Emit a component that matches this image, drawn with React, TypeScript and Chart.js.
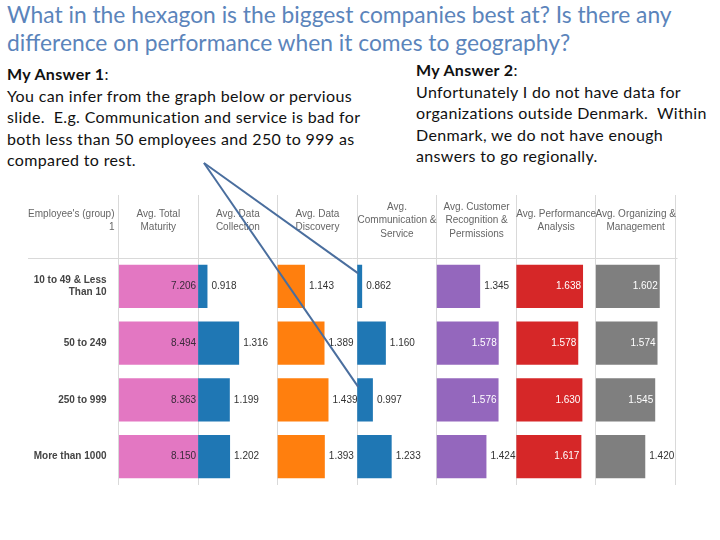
import React, { useEffect, useRef } from "react";
import { Chart, registerables } from "chart.js";

Chart.register(...registerables);

const rowLabels: (string | string[])[] = [
  ["10 to 49 & Less", "Than 10"],
  "50 to 249",
  "250 to 999",
  "More than 1000",
];

const measureHeaders: string[][] = [
  ["Avg. Total", "Maturity"],
  ["Avg. Data", "Collection"],
  ["Avg. Data", "Discovery"],
  ["Avg.", "Communication &", "Service"],
  ["Avg. Customer", "Recognition &", "Permissions"],
  ["Avg. Performance", "Analysis"],
  ["Avg. Organizing &", "Management"],
];

const groupHeader = ["Employee's (group)", "1"];

const totalMaturity = [7.206, 8.494, 8.363, 8.15];
const dataCollection = [0.918, 1.316, 1.199, 1.202];
const dataDiscovery = [1.143, 1.389, 1.439, 1.393];
const communication = [0.862, 1.16, 0.997, 1.233];
const customerRecognition = [1.345, 1.578, 1.576, 1.424];
const performanceAnalysis = [1.638, 1.578, 1.63, 1.617];
const organizing = [1.602, 1.574, 1.545, 1.42];

const seriesList = [
  totalMaturity,
  dataCollection,
  dataDiscovery,
  communication,
  customerRecognition,
  performanceAnalysis,
  organizing,
];

const seriesColors = ["#e377c2", "#1f77b4", "#ff7f0e", "#1f77b4", "#9467bd", "#d62728", "#7f7f7f"];

// per-column axis range (each column is its own small axis)
const AX_MIN = 0.8;
const AX_MAX = 1.8;

const FONT = "'Liberation Sans', Arial, sans-serif";

const tablePlugin = {
  id: "tablePlugin",
  afterDatasetsDraw(chart: any) {
    const ctx = chart.ctx as CanvasRenderingContext2D;
    const xs = chart.scales.x;
    const ys = chart.scales.y;
    const area = chart.chartArea;
    ctx.save();

    // value labels
    ctx.font = `10px ${FONT}`;
    ctx.textBaseline = "middle";
    chart.data.datasets.forEach((ds: any, i: number) => {
      const meta = chart.getDatasetMeta(i);
      meta.data.forEach((el: any, j: number) => {
        const v = seriesList[i][j];
        const txt = v.toFixed(3);
        const inside = i === 0 || v >= 1.5;
        if (inside) {
          ctx.textAlign = "right";
          ctx.fillStyle = i === 0 ? "#3a2a3a" : "#ffffff";
          ctx.fillText(txt, el.x - 2, el.y);
        } else {
          ctx.textAlign = "left";
          ctx.fillStyle = "#333333";
          ctx.fillText(txt, el.x + 4, el.y);
        }
      });
    });

    // header texts
    const headerCenter = (chart.chartArea.top + xs.top) / 2 - 6;
    const lh = 13.5;
    ctx.fillStyle = "#666666";
    ctx.font = `10px ${FONT}`;
    ctx.textAlign = "center";
    measureHeaders.forEach((lines, k) => {
      const cx = xs.getPixelForValue(k + 0.5);
      const y0 = headerCenter - ((lines.length - 1) * lh) / 2;
      lines.forEach((ln, n) => ctx.fillText(ln, cx, y0 + n * lh));
    });
    ctx.textAlign = "right";
    {
      const y0 = headerCenter - lh / 2;
      groupHeader.forEach((ln, n) => ctx.fillText(ln, xs.getPixelForValue(0) - 4, y0 + n * lh));
    }

    // horizontal rule below headers
    ctx.strokeStyle = "#d9d9d9";
    ctx.lineWidth = 1;
    ctx.beginPath();
    ctx.moveTo(28, Math.round(area.top) + 0.5);
    ctx.lineTo(area.right + 2, Math.round(area.top) + 0.5);
    ctx.stroke();

    // annotation arrows pointing at communication bars of rows 0 and 2
    const commX = xs.getPixelForValue(3) + 1;
    const start = { x: 204, y: 163 };
    ctx.strokeStyle = "#4a6e9e";
    ctx.lineWidth = 2;
    [0, 2].forEach((r) => {
      const yy = ys.getPixelForValue(r) - 13;
      ctx.beginPath();
      ctx.moveTo(start.x, start.y);
      ctx.lineTo(commX, yy);
      ctx.stroke();
    });

    ctx.restore();
  },
};

function ChartView() {
  const ref = useRef<HTMLCanvasElement | null>(null);
  useEffect(() => {
    if (!ref.current) return;
    const datasets = seriesList.map((vals, k) => ({
      label: measureHeaders[k].join(" "),
      data: vals.map((v) => [k, k + Math.min(1, Math.max(0, (v - AX_MIN) / (AX_MAX - AX_MIN)))]),
      backgroundColor: seriesColors[k],
      borderWidth: 0,
      grouped: false,
      categoryPercentage: 1,
      barPercentage: 0.76,
    }));
    const chart = new Chart(ref.current, {
      type: "bar",
      data: { labels: rowLabels as any, datasets: datasets as any },
      options: {
        indexAxis: "y",
        animation: false,
        responsive: false,
        maintainAspectRatio: false,
        layout: { padding: { left: 0, top: 195, right: 44.5, bottom: 55 } },
        plugins: { legend: { display: false }, tooltip: { enabled: false }, title: { display: false } },
        scales: {
          x: {
            type: "linear",
            position: "top",
            min: 0,
            max: 7,
            afterBuildTicks: (s: any) => {
              s.ticks = [0, 1, 2, 3, 4, 5, 6, 7].map((v) => ({ value: v }));
            },
            ticks: { display: false },
            grid: { color: "#d9d9d9", lineWidth: 1, drawTicks: true, tickLength: 63, tickColor: "#d9d9d9" },
            border: { display: false },
          },
          y: {
            type: "category",
            position: "left",
            afterFit: (s: any) => {
              s.width = 118.5;
            },
            grid: { display: false },
            border: { display: false },
            ticks: {
              color: "#444444",
              padding: 4,
              font: { family: FONT, size: 10, weight: "bold", lineHeight: 1.25 },
            },
          },
        },
      } as any,
      plugins: [tablePlugin],
    });
    return () => chart.destroy();
  }, []);
  return <canvas ref={ref} width={720} height={540} style={{ position: "absolute", left: 0, top: 0 }} />;
}

const textFont = "Lato, 'Open Sans', sans-serif";

export default function App() {
  const lineStyle: React.CSSProperties = { whiteSpace: "pre" };
  const bodyStyle: React.CSSProperties = {
    position: "absolute",
    fontFamily: textFont,
    fontSize: 16,
    letterSpacing: "0.35px",
    lineHeight: "21.5px",
    color: "#111",
  };
  return (
    <div style={{ position: "absolute", left: 0, top: 0, width: 720, height: 540, background: "#fff", overflow: "hidden" }}>
      <div
        style={{
          position: "absolute",
          left: 7,
          top: 0,
          fontFamily: textFont,
          fontSize: 22.8,
          lineHeight: "28px",
          color: "#5b84bb",
          whiteSpace: "nowrap",
        }}
      >
        <div>What in the hexagon is the biggest companies best at? Is there any</div>
        <div>difference on performance when it comes to geography?</div>
      </div>
      <div style={{ ...bodyStyle, left: 7, top: 63 }}>
        <div style={lineStyle}>
          <b>My Answer 1</b>:
        </div>
        <div style={lineStyle}>You can infer from the graph below or pervious</div>
        <div style={lineStyle}>slide.  E.g. Communication and service is bad for</div>
        <div style={lineStyle}>both less than 50 employees and 250 to 999 as</div>
        <div style={lineStyle}>compared to rest.</div>
      </div>
      <div style={{ ...bodyStyle, left: 416, top: 59 }}>
        <div style={lineStyle}>
          <b>My Answer 2</b>:
        </div>
        <div style={lineStyle}>Unfortunately I do not have data for</div>
        <div style={lineStyle}>organizations outside Denmark.  Within</div>
        <div style={lineStyle}>Denmark, we do not have enough</div>
        <div style={lineStyle}>answers to go regionally.</div>
      </div>
      <ChartView />
    </div>
  );
}
